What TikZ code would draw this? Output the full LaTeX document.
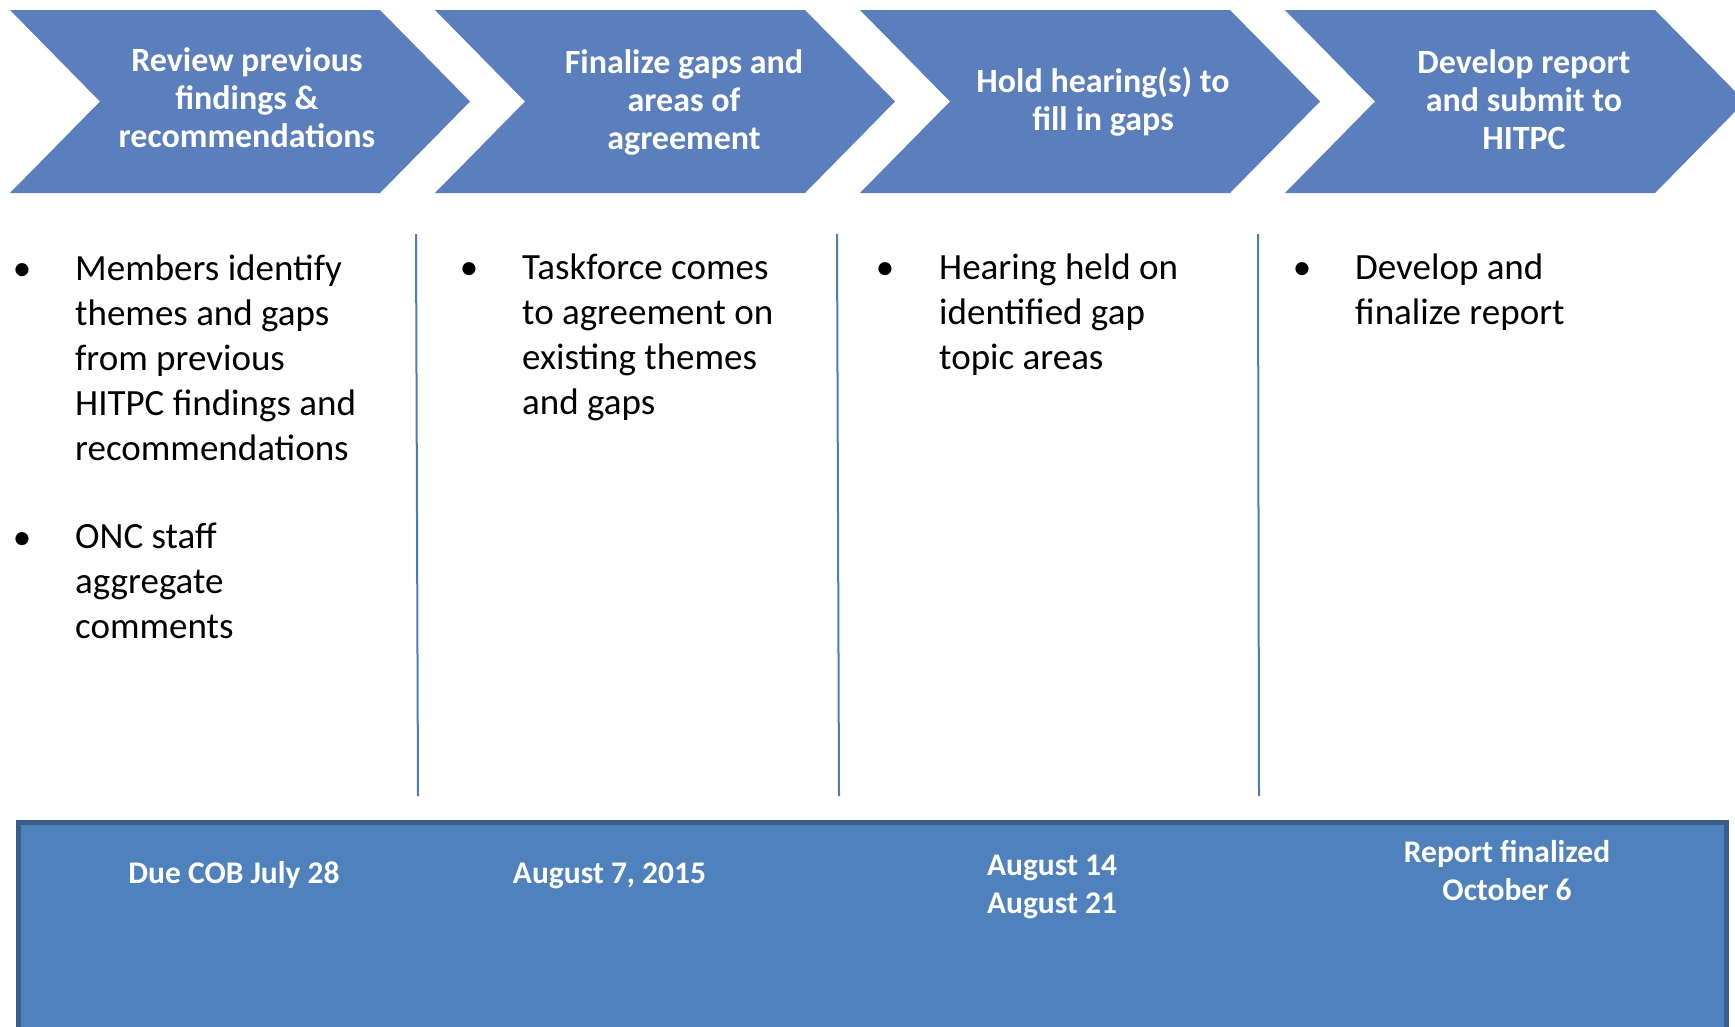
\documentclass[tikz,border=0pt]{standalone}
\usepackage{fontspec}
\setmainfont{Carlito}
\definecolor{chevblue}{RGB}{91,126,188}
\definecolor{boxblue}{RGB}{79,129,189}
\definecolor{boxedge}{RGB}{58,94,140}
\definecolor{ruleblue}{RGB}{74,126,187}
\begin{document}
% every text block is anchored at the baseline of its last line
\begin{tikzpicture}[x=1pt,y=-1pt,
  chevron/.style={fill=chevblue},
  steptitle/.style={text=white, font=\fontsize{34}{38}\selectfont\bfseries, align=center, anchor=base, inner sep=0pt},
  itemtext/.style={font=\fontsize{37}{45}\selectfont, align=left, anchor=base west, inner sep=0pt},
  itemdot/.style={font=\fontsize{37}{45}\selectfont, anchor=base, inner sep=0pt},
  datetext/.style={text=white, font=\fontsize{31.5}{38}\selectfont\bfseries, align=center, anchor=base, inner sep=0pt},
  divider/.style={draw=ruleblue, line width=2pt}
]
\useasboundingbox (0,0) rectangle (1735,1026);
\clip (0,0) rectangle (1735,1026);
\fill[white] (0,0) rectangle (1735,1026);

% process chevrons
\foreach \x in {10,435,860,1285} {
  \fill[chevron] (\x,10) -- ++(370,0) -- ++(90,91.5) -- ++(-90,91.5)
    -- ++(-370,0) -- ++(90,-91.5) -- cycle;
}
\node[steptitle] (t1) at (247,147) {Review previous\\findings \&\\recommendations};
\node[steptitle] (t2) at (684,149) {Finalize gaps and\\areas of\\agreement};
\node[steptitle] (t3) at (1103,130) {Hold hearing(s) to\\fill in gaps};
\node[steptitle] (t4) at (1524,149) {Develop report\\and submit to\\HITPC};

% column dividers
\draw[divider] (416,234) -- (418,796);
\draw[divider] (837,234) -- (839,796);
\draw[divider] (1258,234) -- (1259,796);

% column items
\node[itemdot] (d1a) at (22,280) {•};
\node[itemtext] (i1a) at (75,460) {Members identify\\themes and gaps\\from previous\\HITPC findings and\\recommendations};
\node[itemdot] (d1b) at (22,549) {•};
\node[itemtext] (i1b) at (75,638) {ONC staff\\aggregate\\comments};
\node[itemdot] (d2) at (469,279) {•};
\node[itemtext] (i2) at (522,414) {Taskforce comes\\to agreement on\\existing themes\\and gaps};
\node[itemdot] (d3) at (885,279) {•};
\node[itemtext] (i3) at (939,369) {Hearing held on\\identified gap\\topic areas};
\node[itemdot] (d4) at (1302,279) {•};
\node[itemtext] (i4) at (1355,324) {Develop and\\finalize report};

% timeline band
\draw[draw=boxedge, line width=5pt, fill=boxblue] (18.5,822.5) rectangle (1726.5,1100);
\node[datetext] (dt1) at (234,883) {Due COB July 28};
\node[datetext] (dt2) at (609.5,883) {August 7, 2015};
\node[datetext] (dt3) at (1052,913) {August 14\\August 21};
\node[datetext] (dt4) at (1507,900) {Report finalized\\October 6};
\end{tikzpicture}
\end{document}
